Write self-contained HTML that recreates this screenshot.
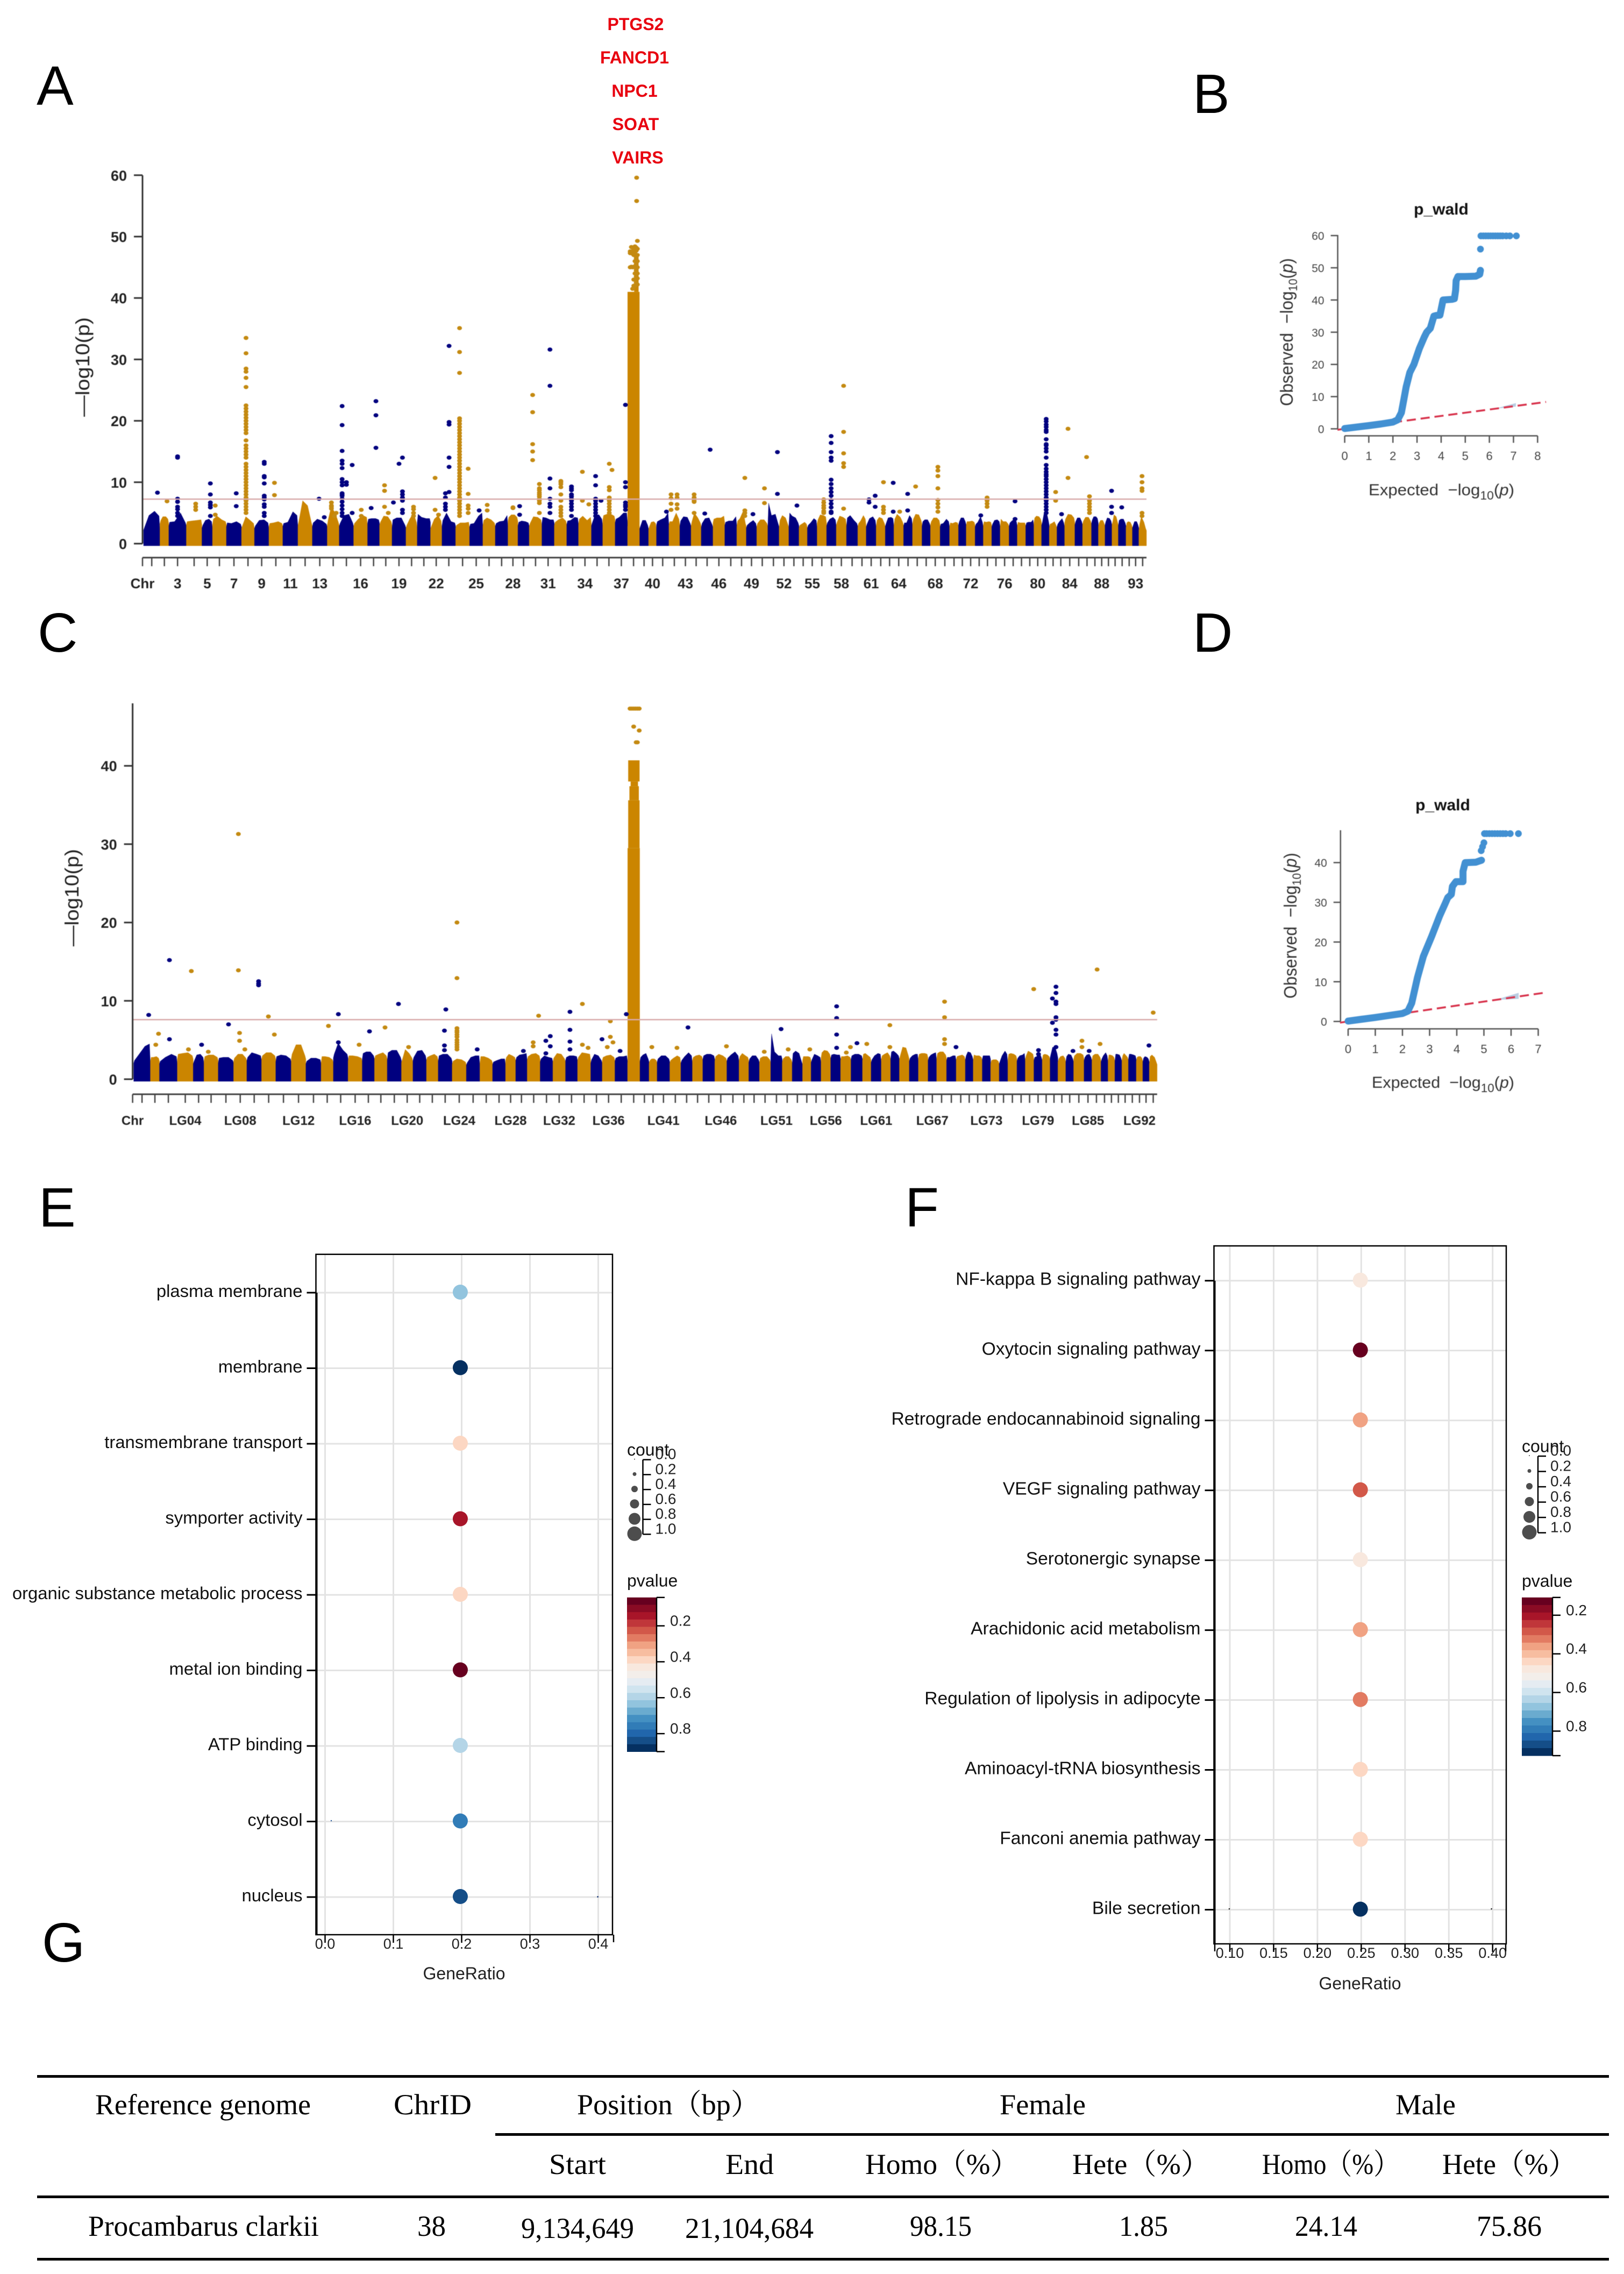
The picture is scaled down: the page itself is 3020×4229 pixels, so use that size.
<!DOCTYPE html>
<html lang="en">
<head>
<meta charset="utf-8">
<title>GWAS figure</title>
<style>
html,body{margin:0;padding:0;background:#fff;}
svg{display:block;font-family:"Liberation Sans",sans-serif;}
.serif{font-family:"Liberation Serif","Noto Serif CJK SC",serif;font-size:54px;fill:#000;}
.plabel{font-size:103px;fill:#000;}
.gene{font-size:32px;font-weight:bold;fill:#e8000f;}
</style>
</head>
<body>
<svg id="fig" xmlns="http://www.w3.org/2000/svg" width="3020" height="4229" viewBox="0 0 3020 4229">
  <rect x="0" y="0" width="3020" height="4229" fill="#fff"/>

  <text class="plabel" x="68" y="195">A</text>
  <text class="plabel" x="2218" y="210">B</text>
  <text class="plabel" x="70" y="1212">C</text>
  <text class="plabel" x="2218" y="1212">D</text>
  <text class="plabel" x="72" y="2281">E</text>
  <text class="plabel" x="1683" y="2281">F</text>
  <text class="plabel" x="78" y="3648">G</text>

  <g text-anchor="middle">
    <text class="gene" x="1182" y="56">PTGS2</text>
    <text class="gene" x="1180" y="118">FANCD1</text>
    <text class="gene" x="1180" y="180">NPC1</text>
    <text class="gene" x="1182" y="242">SOAT</text>
    <text class="gene" x="1186" y="304">VAIRS</text>
  </g>

  <g id="manhattan-a" style="filter:blur(0.6px)"></g>
  <g id="qq-b" style="filter:blur(0.5px)"></g>
  <g id="manhattan-c" style="filter:blur(0.6px)"></g>
  <g id="qq-d" style="filter:blur(0.5px)"></g>
  <g id="dot-e"></g>
  <g id="dot-f"></g>

  <g>
    <circle cx="616" cy="3386" r="1.2" fill="#2a5a9a"/>
    <circle cx="1111.6" cy="3527.5" r="1.4" fill="#1a3a7a"/>
    <circle cx="2286" cy="3550" r="1.3" fill="#222"/>
    <circle cx="2773.6" cy="3550" r="1.3" fill="#222"/>
    <line x1="1141" x2="1141" y1="3598" y2="3612" stroke="#000" stroke-width="2.5"/>
    <line x1="2259" x2="2259" y1="3615" y2="3629" stroke="#000" stroke-width="2.5"/>
    <line x1="2800" x2="2800" y1="3615" y2="3629" stroke="#000" stroke-width="2.5"/>
  </g>

  <g>
    <rect x="69" y="3859" width="2923" height="5" fill="#000"/>
    <rect x="921" y="3967" width="2071" height="5" fill="#000"/>
    <rect x="69" y="4083" width="2923" height="5" fill="#000"/>
    <rect x="69" y="4199" width="2923" height="5" fill="#000"/>
    <text class="serif" x="177" y="3932" textLength="401" lengthAdjust="spacingAndGlyphs">Reference genome</text>
    <text class="serif" x="732" y="3932" textLength="145" lengthAdjust="spacingAndGlyphs">ChrID</text>
    <text class="serif" x="1073" y="3932" textLength="340" lengthAdjust="spacingAndGlyphs">Position（bp）</text>
    <text class="serif" x="1859" y="3932" textLength="160" lengthAdjust="spacingAndGlyphs">Female</text>
    <text class="serif" x="2595" y="3932" textLength="112" lengthAdjust="spacingAndGlyphs">Male</text>
    <text class="serif" x="1021" y="4043" textLength="106" lengthAdjust="spacingAndGlyphs">Start</text>
    <text class="serif" x="1349" y="4043" textLength="90" lengthAdjust="spacingAndGlyphs">End</text>
    <text class="serif" x="1609" y="4043" textLength="286" lengthAdjust="spacingAndGlyphs">Homo（%）</text>
    <text class="serif" x="1994" y="4043" textLength="256" lengthAdjust="spacingAndGlyphs">Hete（%）</text>
    <text class="serif" x="2347" y="4043" textLength="255" lengthAdjust="spacingAndGlyphs">Homo（%）</text>
    <text class="serif" x="2682" y="4043" textLength="250" lengthAdjust="spacingAndGlyphs">Hete（%）</text>
    <text class="serif" x="164" y="4158" textLength="429" lengthAdjust="spacingAndGlyphs">Procambarus clarkii</text>
    <text class="serif" x="776" y="4158" textLength="53" lengthAdjust="spacingAndGlyphs">38</text>
    <text class="serif" x="969" y="4162" textLength="210" lengthAdjust="spacingAndGlyphs">9,134,649</text>
    <text class="serif" x="1274" y="4162" textLength="239" lengthAdjust="spacingAndGlyphs">21,104,684</text>
    <text class="serif" x="1692" y="4158" textLength="115" lengthAdjust="spacingAndGlyphs">98.15</text>
    <text class="serif" x="2081" y="4158" textLength="91" lengthAdjust="spacingAndGlyphs">1.85</text>
    <text class="serif" x="2408" y="4158" textLength="116" lengthAdjust="spacingAndGlyphs">24.14</text>
    <text class="serif" x="2746" y="4158" textLength="121" lengthAdjust="spacingAndGlyphs">75.86</text>
  </g>
</svg>

<script>
// ---------- Manhattan data ----------
const chrLengths = [30.4,16.5,32.6,29,19.6,25.9,28.1,24.1,26.8,25.9,28.1,26.8,27.7,22.3,26.8,25.9,22.3,23.2,25.9,21,24.6,21.4,25.4,25.9,24.7,23.1,23.6,18.5,21,23.6,23.1,23.1,21.9,24,21,23.1,23.1,22.3,16.8,14.7,23.1,20.2,21,18.9,21.9,21.9,22.3,17.7,19.4,20.6,21,18.1,18.9,15.6,18.1,17.6,18,19,21,15.7,18.5,17,16,18,16.6,17.6,15.7,18,17.6,16.6,14.3,16.6,15.2,15.7,15.7,16.6,15.2,15.7,15.2,14.3,14.3,14.3,14.3,19,14.3,16.6,12.8,12.4,12.8,11.9,14.3,11.9,11.9,14.3];
const tickChrA = [3,5,7,9,11,13,16,19,22,25,28,31,34,37,40,43,46,49,52,55,58,61,64,68,72,76,80,84,88,93];
const tickLabelsA = ["3","5","7","9","11","13","16","19","22","25","28","31","34","37","40","43","46","49","52","55","58","61","64","68","72","76","80","84","88","93"];
const tickChrC = [4,8,12,16,20,24,28,32,36,41,46,51,56,61,67,73,79,85,92];
const tickLabelsC = ["LG04","LG08","LG12","LG16","LG20","LG24","LG28","LG32","LG36","LG41","LG46","LG51","LG56","LG61","LG67","LG73","LG79","LG85","LG92"];
const yTicksA = [0,10,20,30,40,50,60];
const yTicksC = [0,10,20,30,40];
const thresholdA = 7.25;
const thresholdC = 7.6;
// dense background silhouette per chromosome: -log10(p) at four points along it
const envelopeA = [[2.6,4.6,5.3,4.5],[3.8,4.4,4.4,4],[3.5,3.6,5,3.4],[3.6,3.7,3.8,3.9],[3,3.8,4,3.6],[4,4.5,3.9,3.6],[3.4,3.3,3.6,3.2],[2.9,4.4,3.8,3.3],[2.9,3.8,3.9,3.4],[3.3,3.4,3.6,3.3],[3.3,3.5,5.2,4.6],[3.6,7,6.2,3.4],[3.4,4,3.7,3.2],[3.8,6,5,3.5],[3.3,4.6,4.8,3.4],[3.3,4,4.6,4.3],[4,4.1,4.1,3.9],[3.5,4.5,4.4,3.6],[3.9,4.2,4.2,3],[3,4,5,3.5],[4.8,4.3,4.1,4.1],[2.8,4,4.6,3.7],[3.8,5,3.6,3.4],[3,3.4,3.4,3.5],[3.2,3.3,4.5,5],[3.8,4.2,3.9,3.4],[3.3,3.6,3.7,4.6],[4.3,4.7,4.7,4.3],[3.5,3.7,3.6,3.4],[3.3,4.4,4.3,3.9],[4.3,4.2,3.9,3.9],[3.5,3.9,4.2,3.7],[3.7,3.8,4.3,4.2],[4,4.5,3.8,4.3],[3.4,4.7,4.7,4],[4.6,4.8,4.8,4.5],[4,4.3,5,5],[3.3,3.4,3.4,3.3],[2.8,3.8,3.8,3],[2.8,3.5,3.6,3.3],[3.6,3.9,4.2,5],[3.6,3.6,5,4],[3.7,4.4,4.3,3.3],[3.6,5,4.2,3.4],[3.3,4.1,4.2,3.1],[4,4.2,4.2,4.5],[3.5,3.7,3.7,4.4],[3.7,4.1,5.3,3.3],[3,3.4,3.8,3.3],[3.3,3.9,3.9,3.3],[6.6,4.6,4.8,3.2],[3.8,4.6,4.2,3.1],[5,4.5,4.2,3.4],[3,3.2,3.5,3.2],[3,3.4,4.1,3.8],[3.9,4.7,4.6,4.4],[3.4,4,4.3,3.9],[3.5,4.5,4.3,4],[4.2,4.6,3.8,3.3],[3.3,3.7,4.6,4],[3.2,4.1,4.4,3.8],[3.8,4.3,4.1,3.3],[3.3,4.2,4.3,4.1],[4,4.8,4.3,3.5],[3.4,3.4,4.6,4.1],[4,4.8,4.7,3.8],[3.6,3.9,3.9,3.3],[3.6,4.2,4.2,3.8],[3.2,3.3,4,3.6],[3.4,3.3,3.5,3.4],[3.6,4.2,4.2,3.6],[3.6,3.6,3.7,3.5],[3.2,3.5,4.4,3.5],[3.6,3.5,3.6,3.5],[3.2,3.8,3.9,3.6],[4,3.6,3.6,3.2],[3.4,3.7,4,3.6],[3.5,3.4,3.4,3.4],[3.4,3.5,3.5,3.9],[4.2,4.5,4.4,4],[3.5,5,5,3.8],[3.2,3.3,3.6,3],[3.2,3.6,4.1,3.4],[4,4.8,4.7,4.2],[3.6,4.2,4.2,3.6],[3.7,4.3,4.3,3.7],[3.9,4.4,4.4,4.1],[3.4,3.8,3.8,3.3],[3.6,4.2,4.1,3.7],[3.6,4.7,4.4,3.6],[3.8,4,4,3.4],[3.4,3.6,3.5,3.1],[3,3.6,3.6,3.1],[3.2,4.4,3.5,2.5]];
const envelopeC = [[2.4,3.2,4.2,4.5],[2.8,2.8,2.9,2.7],[2.3,2.8,3.2,2.9],[3.2,3.3,3.4,3],[2.3,3.1,3.2,2.8],[2.9,3.1,3.1,2.8],[2.7,2.8,2.8,2.4],[2.7,3.2,3.2,2.7],[2.8,3.4,3.2,3],[3,3.4,3.4,3],[2.9,3.1,3,2.6],[3.2,4.4,4.4,3],[2.3,2.7,2.7,2.5],[2.9,2.9,2.8,2.5],[3.2,4.6,3.7,3.2],[3,3,2.9,2.7],[3.3,3.5,3.5,3],[3,3.2,3.4,3],[3.4,3.7,3.7,2.8],[2.5,3.8,3.3,2.7],[2.8,3.6,3.7,3],[2.8,3,3.2,2.9],[3,3.2,3.2,2.7],[2.3,2.6,2.5,2.2],[2.1,2.8,3,3],[2.9,2.9,2.7,2.4],[2.2,2.4,2.6,2.6],[2.8,3.2,3,2.8],[2.8,3.1,3.2,3.3],[2.9,3.2,3.3,3],[2.6,3,2.8,2.7],[2.7,3.3,3.2,2.6],[2.8,3,3,2.9],[2.8,3.4,3.3,3.2],[2.5,3.2,3,2.4],[2.8,3,3.1,2.8],[2.7,2.9,2.9,3],[2.5,2.6,3,3],[2.8,3.1,3.3,2.6],[2.4,2.6,2.6,2.4],[2.6,3,3,2.6],[2.4,2.7,3,2.8],[2.4,2.9,3.4,3],[2.8,3,3.1,2.9],[3,3.2,3.2,3],[2.9,3.2,3,2.7],[2.7,3.1,3.5,3],[2.9,3.3,3,2.8],[2.6,3,3,2.5],[2.7,2.9,2.9,2.5],[5.8,3.5,3,3],[2.6,2.9,2.9,2.5],[3.3,3.6,3.3,2.2],[2.9,2.9,2.9,2.8],[2.5,3.2,3,2.8],[3.4,3.7,3.6,3.2],[3.1,3.2,3.1,3.1],[2.9,2.9,3,2.8],[3,3.2,3.2,3],[3.2,3.3,3,2.8],[2.5,3,3.3,3.2],[3,3.2,3.4,3],[3.5,3.6,3.3,3],[3,4.1,4,3],[2.7,3,3.2,3.2],[3.2,3.3,3.3,3.2],[2.8,3.1,3.3,3.4],[3.3,3.5,3.5,3.1],[2.8,2.8,3,3],[2.9,3,3.1,2.9],[3,3.5,3.4,2.9],[3.1,3,3,2.8],[3,3,3,3],[2.4,2.5,2.5,2.3],[2.3,3,3.6,3.2],[3.2,3.3,3.2,3],[2.7,3,3.1,3.3],[3,3.6,3.4,3.2],[2.8,2.9,3.4,2.8],[3.1,3.2,3.1,2.9],[3.2,4.1,4,3.3],[2.6,2.9,3,2.7],[2.9,3.2,3.1,2.6],[3,3.3,3.3,3.1],[2.8,3.1,3.2,2.8],[3,3.2,3.2,2.8],[2.6,3,3.4,3],[3.1,3.1,3,2.8],[3.2,3.2,3.1,2.7],[3,3.3,3,2.8],[3.2,3.2,3.1,3],[2.8,2.9,2.9,2.7],[2.7,2.9,2.8,2.6],[2.9,3.1,2.8,2.2]];
// solid regions of the chr 38 peak: [start fraction, end fraction, low, high]
const spikeBandsA = [[0,1,0,41],[0.55,0.92,41,47]];
const spikeBandsC = [[0,1,0,29.5],[0.05,0.98,29.5,35.6],[0.15,0.92,35.6,37.4],[0.25,0.85,37.4,38],[0.05,0.98,38,40.7]];
// significant markers: [chromosome, fraction along it, -log10(p) values...]
const hitsA = [
[1,.85,8.3],[2,.8,6.9],[3,.5,14.2,14,7.3,6.8,6,5.6,5,4.5],[4,.6,6.5,6,5.5],[5,.8,9.8,8,6.7,6.3,5.9,4.5],[6,.2,6.2,4.7],[7,.65,8.2,6.1],
[8,.35,33.5,31,28.5,28,27,25.5,22.5,22,21.5,21,20.5,20,19.5,19,18.5,18,16.8,16,15.5,15,14.5,14,13,12.5,12,11.5,11,10.5,10,9.5,9,8.5,8,7.5,7.2,7,6.5,6,5.5,5],
[9,.68,13.3,13,11,10.8,9.8,7.8,7.5,7.2,6.4,6,5,4.5],[10,.4,9.9,7.9],[13,.45,7.3],[13,.8,4.3],[14,.35,6.7,6.2,6,5.7],[14,.75,5],[14,.6,4.5],
[15,.2,22.4,19.3,15.1,13.5,13,12.3,10.5,10,9.5,8.2,8,7.8,7.3,6.8,6.2,5.6,5,4.5],[15,.5,10,9.6],[15,.9,12.8,5],[16,.55,5.5,4.5],[17,.3,5.8],[17,.7,23.2,20.9,15.6],[18,.4,9.5,8.6,6],[18,.7,5],
[19,.1,6.7],[19,.5,13],[19,.75,14,8.5,8,7.5,7,5.5,5],[20,.67,6,5.6,5,4.5],[22,.4,10.7,5.5],[22,.7,4.7],[23,.52,32.2,19.8,19.4,14,12.5,8.4],[23,.25,8.2,7.5,6.5,6,5.5],
[24,.28,35.1,31.2,27.8,20.4,20,19.5,19,18.5,18,17.5,17,16.5,16,15.5,15,14.5,14,13.5,13,12.5,12,11.5,11,10.5,10,9.5,9,8.5,8,7.5,7,6.5,6,5.5,5,4.5],
[24,.9,12.2,8.1,6.2,5.7,5],[25,.72,5.4],[26,.35,6.3,5.4],[28,.5,5.8,5.9],[29,.15,6.1,4.7],[30,.27,24.2,21.4,16.2,15,13.6],[30,.8,9.7,9,8.7,8.3,8,7.7,7.3,7,6.6,5],
[31,.65,31.6,25.7,10.6,9,7.3,6.5,6,5],[32,.53,10.2,10,9.7,9.2,8,7,6,5.5,5,4.5],[33,.4,9.3,9,8.7,8,7.7,7.3,7,6.5,6,5.5,4.5],[34,.3,11.7,7],[34,.8,6.4],
[35,.37,11,9.5,7.3,7,6.5,6,5.5,5,4.5],[35,.85,7],[36,.53,13,9.2,8.7,7.5,7,6.5,6,5.5,5],[36,.75,12],[37,.83,22.6,10,9.2,6.7,6.3,6,5.5],
[38,.76,59.6,55.8],[38,.22,47.3,47.6,45],[38,.32,48.3,47.5,45.1],[38,.42,48.2,47.2,45,41.5],[38,.52,47.8,47,45.1,43,42],[38,.62,48.4,47.5,46,45,44,43,42],[38,.72,48.2,47.7,46.5,45.5,44.5,43.5,42.5],[38,.82,49.3,48,47,46,45,44,43.2,42.2],
[41,.8,5.2],[42,.2,8,7.4,6.5,5.5],[42,.75,8,7.5,6.4,5.7],[44,.3,8,7.5,7,6.8,5],[45,.3,4.9],[45,.76,15.3],[48,.85,10.7,5.4,5,4.5],[49,.64,4.8],[50,.7,9,6.6],[51,.85,14.9,8.1],[53,.8,6.2],[56,.7,7.2,6.7,6.2,5.8,5.3,5],
[57,.47,17.5,16.4,14.9,14,13.5,10.4,9.7,9,8.4,7.8,7.1,6.5,5.9,5.2,5],[58,.72,25.7,18.2,14.7,13.1,12.5,5.7],[61,.28,7.2,6.7],[61,.9,7.8,6],[62,.8,10,6,5.5,5],[63,.92,9.9,5.2],[64,.6,5.2],[65,.46,8.1,5.4],[66,.33,9.3],
[68,.77,12.5,11.9,11,9,7.1,6.5,5.9,5.2],[73,.7,4.6],[74,.45,7.5,7,6.5,6],[77,.73,6.9,4],
[81,.6,20.3,19.9,19.4,19,18.5,18.2,17,16.2,16,15.5,15,14,12.8,12.2,11.7,11.3,11,10.5,10,9.5,9,8.5,8,7.5,7,6.5,6,5.5,5],
[82,.83,8.4,7],[83,.6,4.8],[84,.33,18.7,10.7],[86,.45,14.1],[86,.78,7.7,7,6.5,6,5.5,5],[89,.95,8.6,6,5],[91,.45,5.9],[94,.42,11,10,9,8.6,5,4.5]
];
const hitsC = [
[1,.9,8.2],[2,.9,5.8],[2,.6,4.4],[3,.56,15.2,5.1],[4,.88,13.8],[4,.7,3.8],[5,.78,4.4],[6,.3,3.5],[7,.67,7],[8,.36,31.3,13.9],[8,.45,5.9,4.9],[8,.85,3.8],[9,.8,12.5,12.2,12],[10,.48,8],[10,.9,5.7],
[14,.6,6.8],[15,.34,8.3,4.7],[16,.78,4.4],[17,.59,6.1],[18,.83,6.6],[19,.79,9.6],[20,.62,4.1],[23,.55,8.9],[23,.45,6.2,4.3,3.7],[24,.34,20,12.9,6.5,6.2,6,5.7,5.4,5,4.7,4.4,4.1,3.8],[25,.8,3.8],
[29,.67,3.6],[30,.46,4.7,4.2],[30,.88,8.1],[31,.45,4.9,3.3],[31,.8,5.5,4.2],[33,.37,8.6,6.3,4.8,3.8],[34,.37,9.6,4.4],[34,.8,4],[35,.98,5.1],[36,.64,7.4,5.4],[36,.85,4.7],[36,.4,4.1],[37,.41,3.6],[37,.9,8.3],
[38,.2,47.3],[38,.35,47.3],[38,.5,47.3,45],[38,.65,47.3],[38,.8,47.3,43],[38,.95,47.3,44.5],[38,.7,43],
[40,.35,4.1],[42,.65,4],[43,.62,6.6],[46,.97,4.2],[50,.43,3.5],[51,.9,6.4],[52,.6,3.8],[54,.85,3.8],[57,.6,9.3,7.8,5.7,4],[58,.55,3.4],[58,.95,4.1],[59,.52,4.6],[60,.5,4.5],[62,.92,6.9,4.1],
[68,.8,9.9,7.9,5.1,4.5],[69,.98,4.1],[78,.98,11.5],[79,.55,3.7,3.2],[81,.75,11.8,11,9.9,9.6,7.9,7.6,6.3,5.7,4.1],[81,.3,10.3,7.2],[83,.92,3.6],[84,.8,4.9,4.1],[85,.65,3.6],[86,.57,14],[86,.9,4.5],[93,.95,4.3],[94,.5,8.5]
];

// ---------- QQ data ----------
const qqExpectedB = [0,0.5,1,1.5,2,2.2,2.35,2.45,2.55,2.7,2.87,3.1,3.3,3.4,3.55,3.7,3.8,3.95,4.08,4.45,4.55,4.6,4.62,4.7,5,5.44,5.6,5.63];
const qqObservedB = [0.1,0.55,1,1.5,2.1,2.8,5,9,13,17.5,20,25,28.5,30,31.2,35,35.2,35.3,40,40.2,40.4,43,46,47.3,47.3,47.4,48,49.2];
const qqTopExpectedB = [5.63,5.65,5.75,5.85,5.95,6.05,6.15,6.25,6.35,6.45,6.55,6.7,6.85,7.12];
const qqTopObservedB = [55.8,59.9,59.9,59.9,59.9,59.9,59.9,59.9,59.9,59.9,59.9,59.9,59.9,59.9];
const bandExpectedB = [6.2,7.1,7.1];
const bandObservedB = [6.2,8.0,6.9];
const qqExpectedD = [0,0.5,1,1.5,2,2.2,2.34,2.55,2.77,3.07,3.37,3.58,3.67,3.8,3.84,3.97,4.23,4.23,4.31,4.7,4.91];
const qqObservedD = [0.1,0.55,1,1.5,2,2.6,4.6,11,16.4,21.3,26.6,29.8,31.2,32,34,35.2,35.2,37.8,40,40.1,40.6];
const qqTopExpectedD = [4.9,4.95,5,5.02,5.1,5.2,5.3,5.4,5.5,5.6,5.7,5.8,5.97,6.27];
const qqTopObservedD = [43,44,45,47.3,47.3,47.3,47.3,47.3,47.3,47.3,47.3,47.3,47.3,47.3];
const bandExpectedD = [5.4,6.28,6.28];
const bandObservedD = [5.4,7.2,5.7];

// ---------- Dot plot data ----------
const termsE = ["plasma membrane","membrane","transmembrane transport","symporter activity","organic substance metabolic process","metal ion binding","ATP binding","cytosol","nucleus"];
const ratioE = [0.198,0.198,0.198,0.198,0.198,0.198,0.198,0.198,0.198];
const pvalueE = [0.664,0.9,0.398,0.128,0.385,0.042,0.58,0.79,0.87];
const xTicksE = [0,0.1,0.2,0.3,0.4];
const xTickLabelsE = ["0.0","0.1","0.2","0.3","0.4"];
const termsF = ["NF-kappa B signaling pathway","Oxytocin signaling pathway","Retrograde endocannabinoid signaling","VEGF signaling pathway","Serotonergic synapse","Arachidonic acid metabolism","Regulation of lipolysis in adipocyte","Aminoacyl-tRNA biosynthesis","Fanconi anemia pathway","Bile secretion"];
const ratioF = [0.249,0.249,0.249,0.249,0.249,0.249,0.249,0.249,0.249,0.249];
const pvalueF = [0.464,0.108,0.354,0.28,0.477,0.362,0.325,0.436,0.431,0.927];
const xTicksF = [0.1,0.15,0.2,0.25,0.3,0.35,0.4];
const xTickLabelsF = ["0.10","0.15","0.20","0.25","0.30","0.35","0.40"];
const countLevels = [0,0.2,0.4,0.6,0.8,1];
const countLabels = ["0.0","0.2","0.4","0.6","0.8","1.0"];
const pvalueTicks = [0.2,0.4,0.6,0.8];
const pvalueTickLabels = ["0.2","0.4","0.6","0.8"];
const paletteRdBu = ["#67001f","#8a0b24","#a81529","#c0363a","#d25849","#e27b62","#f0a283","#f7bda0","#fcd7c3","#f8e8de","#f3eeea","#e5ecf2","#d0e4ef","#b4d5e7","#92c4de","#6aabcf","#4490c2","#317cb7","#2166ac","#154e88","#053061"];

// ---------- helpers ----------
const NS = "http://www.w3.org/2000/svg";
function mk(tag, attrs, parent, text) {
  const el = document.createElementNS(NS, tag);
  for (const k in attrs) el.setAttribute(k, attrs[k]);
  if (text !== undefined) el.textContent = text;
  parent.appendChild(el);
  return el;
}

// ---------- Manhattan ----------
const BLUE = "#00007f", ORANGE = "#cb8500";
function manhattan(root, cfg) {
  const x = a => cfg.x0 + a * cfg.k;
  const y = v => cfg.y0 - v * cfg.u;
  const starts = [];
  let acc = 0;
  chrLengths.forEach(l => { starts.push(acc); acc += l; });
  const colorOf = c => (c % 2 === 1 ? BLUE : ORANGE);
  const bottom = cfg.y0 + 4;

  chrLengths.forEach((len, i) => {
    const env = cfg.envelope[i];
    const base = Math.min.apply(null, env) * 0.85;
    const xa = x(starts[i]), xb = x(starts[i] + len);
    let d = "M" + xa.toFixed(1) + " " + bottom + "L" + xa.toFixed(1) + " " + y(base).toFixed(1);
    d += "L" + (xa + 1.6).toFixed(1) + " " + y(env[0]).toFixed(1);
    d += "L" + x(starts[i] + 0.33 * len).toFixed(1) + " " + y(env[1]).toFixed(1);
    d += "L" + x(starts[i] + 0.67 * len).toFixed(1) + " " + y(env[2]).toFixed(1);
    d += "L" + (xb - 1.6).toFixed(1) + " " + y(env[3]).toFixed(1);
    d += "L" + xb.toFixed(1) + " " + y(base).toFixed(1) + "L" + xb.toFixed(1) + " " + bottom + "Z";
    const c = colorOf(i + 1);
    const p = mk("path", {d: d, fill: c, stroke: c, "stroke-width": 0.4, "stroke-linejoin": "round"}, root);
    
    
  });

  cfg.spike.forEach(b => {
    const s = starts[37], l = chrLengths[37];
    const low = b[2] === 0 ? bottom : y(b[2]);
    const r = mk("rect", {x: x(s + b[0] * l), y: y(b[3]), width: (b[1] - b[0]) * l * cfg.k, height: low - y(b[3]), fill: ORANGE}, root);
    
    
  });

  cfg.hits.forEach(h => {
    const chr = h[0], frac = h[1];
    for (let j = 2; j < h.length; j++) {
      const dot = mk("ellipse", {cx: x(starts[chr - 1] + frac * chrLengths[chr - 1]).toFixed(1), cy: y(h[j]).toFixed(1), rx: 4.5, ry: 3.8, fill: chr % 2 === 1 ? BLUE : "#c48a12"}, root);
      
      
    }
  });

  const thr = mk("line", {x1: cfg.x0 - 2, x2: x(acc), y1: y(cfg.threshold), y2: y(cfg.threshold), stroke: "#d8aaaa", "stroke-width": 2.5}, root);
  
  

  const yAxis = mk("line", {x1: cfg.x0 - 2, x2: cfg.x0 - 2, y1: cfg.yTop, y2: y(0), stroke: "#333", "stroke-width": 3}, root);
  
  

  cfg.yTicks.forEach(t => {
    const tk = mk("line", {x1: cfg.x0 - 18, x2: cfg.x0 - 2, y1: y(t), y2: y(t), stroke: "#333", "stroke-width": 3}, root);
    
    
    const lb = mk("text", {x: cfg.x0 - 31, y: y(t) + 10, "text-anchor": "end", "font-size": 27, "font-weight": "bold", fill: "#222"}, root, String(t));
    
    
  });

  const xAxis = mk("line", {x1: cfg.x0 - 2, x2: x(acc), y1: cfg.axisY, y2: cfg.axisY, stroke: "#444", "stroke-width": 3}, root);
  
  

  const first = mk("line", {x1: cfg.x0 - 2, x2: cfg.x0 - 2, y1: cfg.axisY, y2: cfg.axisY + 16, stroke: "#444", "stroke-width": 2.5}, root);
  
  
  chrLengths.forEach((len, i) => {
    const cx = x(starts[i] + len / 2);
    const tk = mk("line", {x1: cx, x2: cx, y1: cfg.axisY, y2: cfg.axisY + 16, stroke: "#444", "stroke-width": 2.5}, root);
    
    
  });

  const chrLab = mk("text", {x: cfg.x0 - 2, y: cfg.labelY, "text-anchor": "middle", "font-size": cfg.labelSize, "font-weight": "bold", fill: "#222"}, root, "Chr");
  
  
  cfg.tickChr.forEach((c, i) => {
    const lb = mk("text", {x: x(starts[c - 1] + chrLengths[c - 1] / 2), y: cfg.labelY, "text-anchor": "middle", "font-size": cfg.labelSize, "font-weight": "bold", fill: "#222"}, root, cfg.tickLabels[i]);
    
    
  });

  const t = mk("text", {transform: "rotate(-90 " + cfg.titleX + " " + cfg.titleBottom + ")", x: cfg.titleX, y: cfg.titleBottom, "font-size": 36, fill: "#222", textLength: cfg.titleLen, lengthAdjust: "spacingAndGlyphs"}, root, "\u2014log10(p)");
  
  
}

manhattan(document.getElementById("manhattan-a"), {
  x0: 267, k: 1, y0: 1011, u: 11.42, yTop: 326, axisY: 1037, labelY: 1094, labelSize: 26,
  envelope: envelopeA, spike: spikeBandsA, hits: hitsA, threshold: thresholdA, yTicks: yTicksA,
  tickChr: tickChrA, tickLabels: tickLabelsA, titleX: 166, titleBottom: 775, titleLen: 185
});
manhattan(document.getElementById("manhattan-c"), {
  x0: 248.6, k: 1.0205, y0: 2007, u: 14.57, yTop: 1308, axisY: 2035, labelY: 2092, labelSize: 24,
  envelope: envelopeC, spike: spikeBandsC, hits: hitsC, threshold: thresholdC, yTicks: yTicksC,
  tickChr: tickChrC, tickLabels: tickLabelsC, titleX: 146, titleBottom: 1760, titleLen: 181
});

// ---------- QQ ----------
function qq(root, cfg) {
  const x = v => cfg.x0 + v * cfg.kx;
  const y = v => cfg.y0 - v * cfg.ky;
  const band = mk("polygon", {points: cfg.bandE.map((e, i) => x(e) + "," + y(cfg.bandO[i])).join(" "), fill: "#b9cde2"}, root);
  
  
  const ref = mk("line", {x1: x(-0.3), y1: y(-0.3), x2: x(cfg.refEnd), y2: y(cfg.refEnd), stroke: "#d8354e", "stroke-width": 3.5, "stroke-dasharray": "17 9"}, root);
  
  
  const curve = mk("polyline", {points: cfg.e.map((e, i) => x(e).toFixed(1) + "," + y(cfg.o[i]).toFixed(1)).join(" "), fill: "none", stroke: "#4290d2", "stroke-width": 13, "stroke-linejoin": "round", "stroke-linecap": "round"}, root);
  
  
  cfg.topE.forEach((e, i) => {
    const c = mk("circle", {cx: x(e), cy: y(cfg.topO[i]), r: 6.3, fill: "#4290d2"}, root);
    
    
  });

  const yAx = mk("line", {x1: cfg.axX, x2: cfg.axX, y1: cfg.axTop, y2: y(0), stroke: "#555", "stroke-width": 2.5}, root);
  
  
  cfg.yTicks.forEach(t => {
    const tk = mk("line", {x1: cfg.axX - 13, x2: cfg.axX, y1: y(t), y2: y(t), stroke: "#555", "stroke-width": 2.5}, root);
    
    
    const lb = mk("text", {x: cfg.axX - 25, y: y(t) + 8, "text-anchor": "end", "font-size": 21, fill: "#444"}, root, String(t));
    
    
  });
  const xAx = mk("line", {x1: x(0), x2: x(cfg.xTicks[cfg.xTicks.length - 1]), y1: cfg.axY, y2: cfg.axY, stroke: "#555", "stroke-width": 2.5}, root);
  
  
  cfg.xTicks.forEach(t => {
    const tk = mk("line", {x1: x(t), x2: x(t), y1: cfg.axY, y2: cfg.axY + 13, stroke: "#555", "stroke-width": 2.5}, root);
    
    
    const lb = mk("text", {x: x(t), y: cfg.axY + 45, "text-anchor": "middle", "font-size": 22, fill: "#444"}, root, String(t));
    
    
  });

  const ti = mk("text", {x: cfg.titleX, y: cfg.titleY, "text-anchor": "middle", "font-size": 30, "font-weight": "bold", fill: "#111"}, root, "p_wald");
  
  

  function mathLabel(prefix, attrs, name) {
    const g = mk("text", attrs, root);
    
    
    mk("tspan", {}, g, prefix + "\u00a0\u00a0\u2212log");
    mk("tspan", {dy: 8, "font-size": 22}, g, "10");
    mk("tspan", {dy: -8}, g, "(");
    mk("tspan", {"font-style": "italic"}, g, "p");
    mk("tspan", {}, g, ")");
  }
  mathLabel("Expected", {x: cfg.xtX, y: cfg.xtY, "font-size": 30, fill: "#333", textLength: cfg.xtLen, lengthAdjust: "spacingAndGlyphs"}, "x-axis-title");
  mathLabel("Observed", {x: cfg.ytX, y: cfg.ytBottom, transform: "rotate(-90 " + cfg.ytX + " " + cfg.ytBottom + ")", "font-size": 33, fill: "#333", textLength: cfg.ytLen, lengthAdjust: "spacingAndGlyphs"}, "y-axis-title");
}

qq(document.getElementById("qq-b"), {
  x0: 2500.6, kx: 44.84, y0: 797.5, ky: 5.99, refEnd: 8.35, axX: 2487.6, axTop: 437, axY: 810.5,
  e: qqExpectedB, o: qqObservedB, topE: qqTopExpectedB, topO: qqTopObservedB, bandE: bandExpectedB, bandO: bandObservedB,
  yTicks: [0,10,20,30,40,50,60], xTicks: [0,1,2,3,4,5,6,7,8],
  titleX: 2680, titleY: 399, xtX: 2545, xtY: 921, xtLen: 271, ytX: 2404, ytBottom: 755, ytLen: 275
});
qq(document.getElementById("qq-d"), {
  x0: 2507, kx: 50.5, y0: 1899.6, ky: 7.385, refEnd: 7.3, axX: 2492.8, axTop: 1544, axY: 1913.4,
  e: qqExpectedD, o: qqObservedD, topE: qqTopExpectedD, topO: qqTopObservedD, bandE: bandExpectedD, bandO: bandObservedD,
  yTicks: [0,10,20,30,40], xTicks: [0,1,2,3,4,5,6,7],
  titleX: 2683, titleY: 1507, xtX: 2551, xtY: 2023, xtLen: 265, ytX: 2411, ytBottom: 1857, ytLen: 271
});

// ---------- Dot plots ----------
function dotPlot(root, c) {
  const x = r => c.xBase + (r - c.xBaseVal) * c.xPer;
  const y = i => c.rowTop + i * c.rowStep;
  const pct = p => Math.max(0, Math.min(paletteRdBu.length - 1, Math.round((p - c.pMin) / (c.pMax - c.pMin) * (paletteRdBu.length - 1))));

  c.xTicks.forEach(t => {
    const g = mk("line", {x1: x(t), x2: x(t), y1: c.top, y2: c.bottom, stroke: "#e3e3e3", "stroke-width": 3}, root);
    
    
  });
  c.terms.forEach((term, i) => {
    const g = mk("line", {x1: c.left, x2: c.right, y1: y(i), y2: y(i), stroke: "#e3e3e3", "stroke-width": 3}, root);
    
    
    const tk = mk("line", {x1: c.left - 17, x2: c.left, y1: y(i), y2: y(i), stroke: "#000", "stroke-width": 3}, root);
    
    
    const lb = mk("text", {x: c.left - 25, y: y(i) + 8, "text-anchor": "end", "font-size": c.termSize, fill: "#111"}, root, term);
    
    
  });
  const frame = mk("rect", {x: c.left, y: c.top, width: c.right - c.left, height: c.bottom - c.top, fill: "none", stroke: "#000", "stroke-width": 2.5}, root);
  
  
  const ax = mk("line", {x1: c.left + 1, x2: c.left + 1, y1: y(0), y2: c.bottom, stroke: "#000", "stroke-width": 4}, root);
  
  

  c.terms.forEach((term, i) => {
    const d = mk("circle", {cx: x(c.ratio[i]), cy: y(i) - 1, r: 14, fill: paletteRdBu[pct(c.pvalue[i])]}, root);
    
    
  });

  c.xTicks.forEach((t, i) => {
    const lb = mk("text", {x: x(t), y: c.bottom + 26, "text-anchor": "middle", "font-size": 27, fill: "#222"}, root, c.xTickLabels[i]);
    
    
    const tk = mk("line", {x1: x(t), x2: x(t), y1: c.bottom, y2: c.bottom + 15, stroke: "#000", "stroke-width": 2.5}, root);
    
    
  });
  const xt = mk("text", {x: c.xTitleX, y: c.xTitleY, "text-anchor": "middle", "font-size": 32, fill: "#222"}, root, "GeneRatio");
  
  

  // count legend
  const ct = mk("text", {x: c.legX, y: c.countTitleY, "font-size": 32, fill: "#111"}, root, "count");
  
  
  const cy = v => c.countTop + v * c.countSpan;
  const cax = mk("line", {x1: c.countAxX, x2: c.countAxX, y1: cy(0), y2: cy(1), stroke: "#000", "stroke-width": 2.5}, root);
  
  
  countLevels.forEach((v, i) => {
    const s = mk("circle", {cx: c.legX + 14, cy: cy(v) - 1, r: 1 + 12.5 * v, fill: "#4d4d4d"}, root);
    
    
    const tk = mk("line", {x1: c.countAxX, x2: c.countAxX + 15, y1: cy(v), y2: cy(v), stroke: "#000", "stroke-width": 2.5}, root);
    
    
    const lb = mk("text", {x: c.countAxX + 23, y: cy(v) - 1, "font-size": 28, fill: "#222"}, root, countLabels[i]);
    
    
  });

  // pvalue legend
  const pt = mk("text", {x: c.legX, y: c.pTitleY, "font-size": 32, fill: "#111"}, root, "pvalue");
  
  
  const bh = (c.barBottom - c.barTop) / paletteRdBu.length;
  paletteRdBu.forEach((col, i) => {
    const b = mk("rect", {x: c.legX, y: c.barTop + i * bh, width: c.barW, height: bh + 0.5, fill: col}, root);
    
    
  });
  const bx = c.legX + c.barW;
  const barAx = mk("line", {x1: bx, x2: bx, y1: c.barTop, y2: c.barBottom, stroke: "#000", "stroke-width": 2.5}, root);
  
  
  const py = p => c.barTop + (p - c.pMin) / (c.pMax - c.pMin) * (c.barBottom - c.barTop);
  [c.pMin, c.pMax].forEach(p => {
    const tk = mk("line", {x1: bx, x2: bx + 15, y1: py(p), y2: py(p), stroke: "#000", "stroke-width": 2.5}, root);
    
    
  });
  pvalueTicks.forEach((p, i) => {
    const tk = mk("line", {x1: bx, x2: bx + 15, y1: py(p), y2: py(p), stroke: "#000", "stroke-width": 2.5}, root);
    
    
    const lb = mk("text", {x: bx + 25, y: py(p) + 0, "font-size": 28, fill: "#222"}, root, pvalueTickLabels[i]);
    
    
  });
}

dotPlot(document.getElementById("dot-e"), {
  terms: termsE, ratio: ratioE, pvalue: pvalueE, xTicks: xTicksE, xTickLabels: xTickLabelsE, termSize: 32.8,
  left: 587.5, right: 1139, top: 2332.7, bottom: 3598, xBase: 604.5, xBaseVal: 0, xPer: 1270,
  rowTop: 2404, rowStep: 140.5, xTitleX: 863, xTitleY: 3681,
  legX: 1166, countTitleY: 2707, countAxX: 1195.5, countTop: 2714.6, countSpan: 138.7,
  pTitleY: 2950.4, barTop: 2970.8, barBottom: 3257.5, barW: 55, pMin: 0.042, pMax: 0.9
});
dotPlot(document.getElementById("dot-f"), {
  terms: termsF, ratio: ratioF, pvalue: pvalueF, xTicks: xTicksF, xTickLabels: xTickLabelsF, termSize: 33.6,
  left: 2257.5, right: 2801, top: 2317, bottom: 3615, xBase: 2287, xBaseVal: 0.1, xPer: 1629,
  rowTop: 2381.7, rowStep: 129.98, xTitleX: 2529, xTitleY: 3699.5,
  legX: 2830, countTitleY: 2700.7, countAxX: 2860, countTop: 2708, countSpan: 142.5,
  pTitleY: 2951, barTop: 2970.8, barBottom: 3265, barW: 57, pMin: 0.108, pMax: 0.927
});
</script>
</body>
</html>
